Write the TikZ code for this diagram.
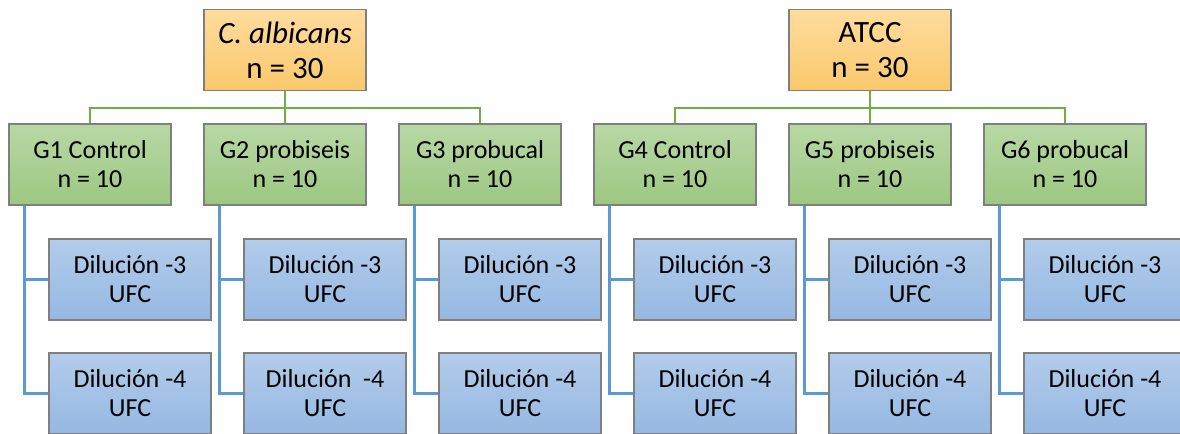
\documentclass[tikz,border=0pt]{standalone}
\usepackage{fontspec}
\setmainfont{Carlito}
\usetikzlibrary{positioning}

\definecolor{naranjaA}{HTML}{FFDC9E}
\definecolor{naranjaB}{HTML}{F9C86B}
\definecolor{verdeA}{HTML}{B8D8A5}
\definecolor{verdeB}{HTML}{9CC781}
\definecolor{azulA}{HTML}{B2CCEA}
\definecolor{azulB}{HTML}{95B8E2}
\definecolor{borde}{HTML}{7F7F7F}
\definecolor{lineaverde}{HTML}{70AD47}
\definecolor{lineaazul}{HTML}{5B9BD5}

\tikzset{
  caja/.style={draw=borde, line width=0.6pt, minimum width=81pt, minimum height=40.5pt,
    inner sep=0pt, align=center, font=\fontsize{13}{14.5}\selectfont},
  cepa/.style={caja, top color=naranjaA, bottom color=naranjaB,
    font=\fontsize{15.5}{17.5}\selectfont},
  grupo/.style={caja, top color=verdeA, bottom color=verdeB},
  dilucion/.style={caja, top color=azulA, bottom color=azulB},
  lverde/.style={draw=lineaverde, line width=1.3pt},
  lazul/.style={draw=lineaazul, line width=1.3pt}
}

\begin{document}
\begin{tikzpicture}[x=0.5pt,y=-0.5pt]
\clip (0,0) rectangle (1180,434);

% we place the two strains
\node[cepa] (calb) at (285,50) {\itshape C. albicans\\n = 30};
\node[cepa] (atcc) at (870,50) {ATCC\\n = 30};

% we place the six groups and their dilutions
\foreach \i/\nombre/\esp in {1/Control/{ },2/probiseis/{\ \ },3/probucal/{ },
                             4/Control/{ },5/probiseis/{ },6/probucal/{ }} {
  \pgfmathsetmacro{\gx}{90+195*(\i-1)}
  \node[grupo] (g\i) at (\gx,164.5) {G\i{} \nombre\\n = 10};
  \node[dilucion] (g\i a) at (\gx+40,279.5) {Dilución -3\\UFC};
  \node[dilucion] (g\i b) at (\gx+40,393.5) {Dilución\esp-4\\UFC};
  % we add the blue connectors
  \draw[lazul] ([xshift=8pt]g\i.south west) |- (g\i a.west);
  \draw[lazul] ([xshift=8pt]g\i.south west) |- (g\i b.west);
}

% we add the green connectors
\draw[lverde] (calb.south) -- ++(0,17) -| (g1.north);
\draw[lverde] (calb.south) -- ++(0,17) -| (g3.north);
\draw[lverde] (calb.south) -- (g2.north);
\draw[lverde] (atcc.south) -- ++(0,17) -| (g4.north);
\draw[lverde] (atcc.south) -- ++(0,17) -| (g6.north);
\draw[lverde] (atcc.south) -- (g5.north);

\end{tikzpicture}
\end{document}
